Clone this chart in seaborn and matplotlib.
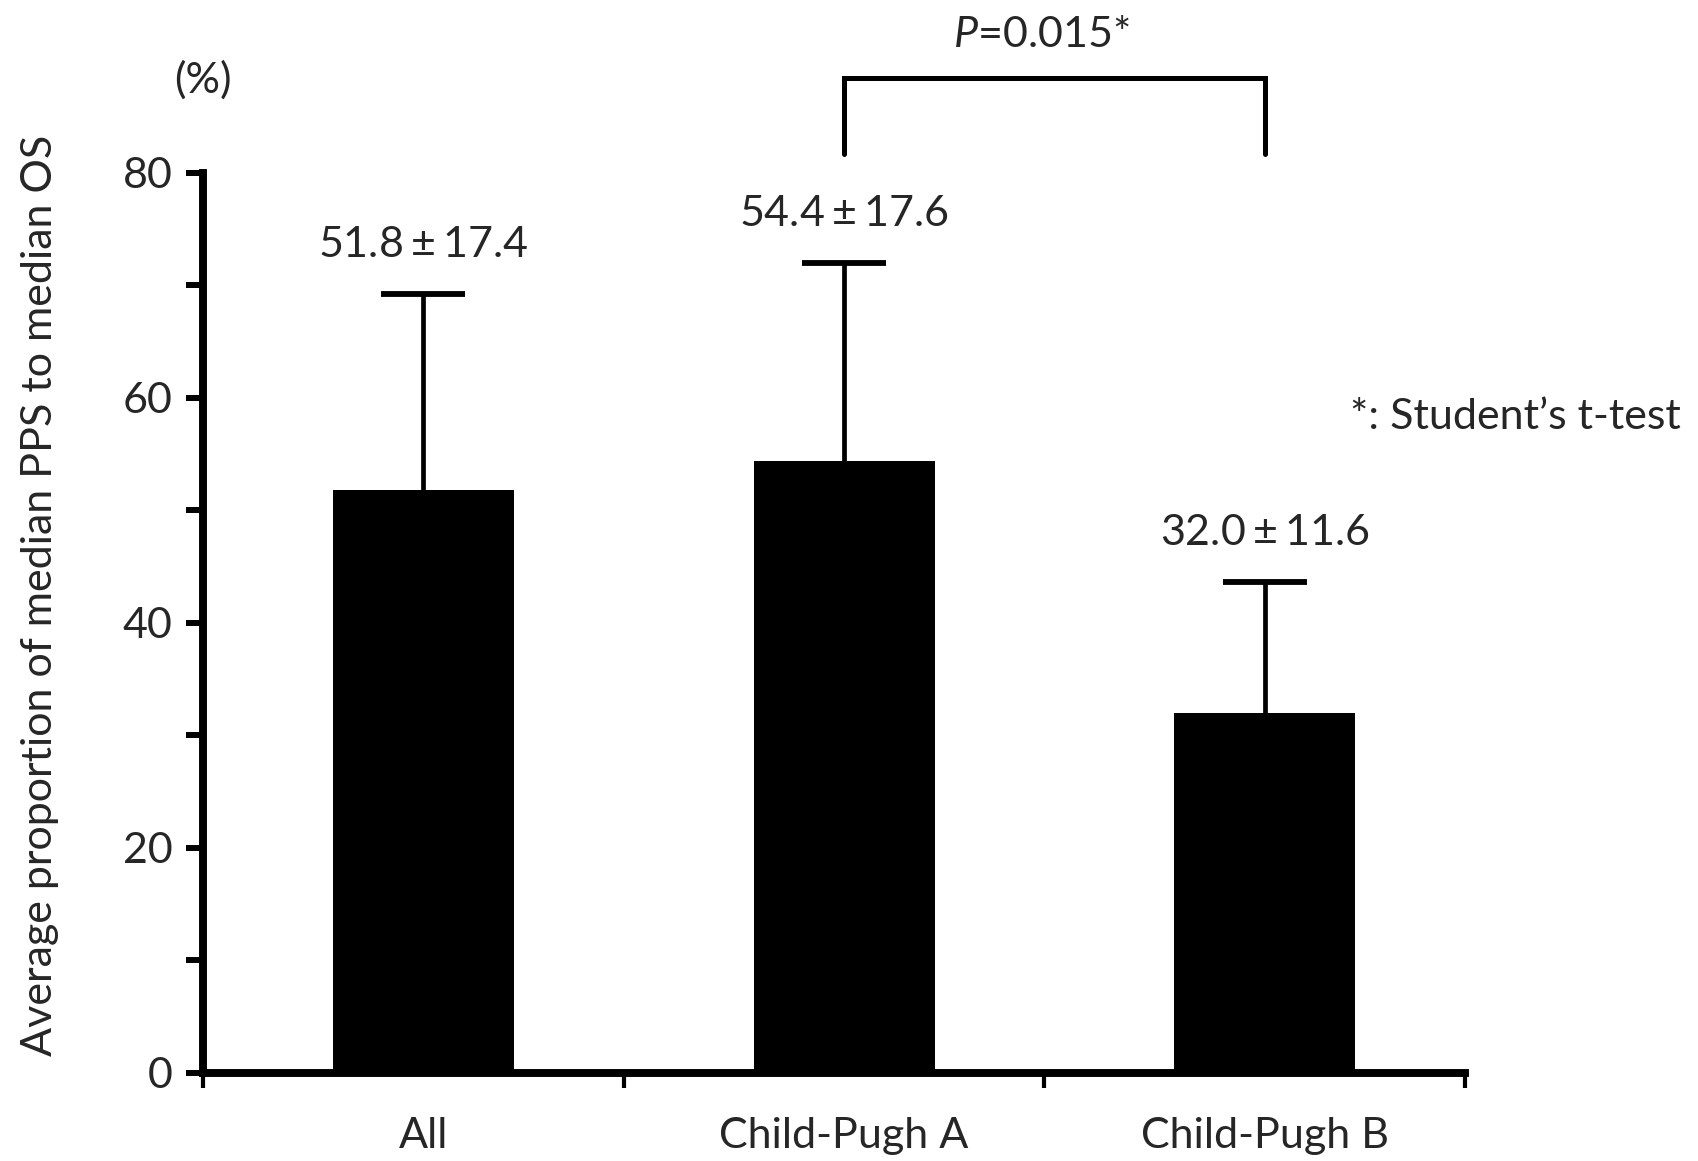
import numpy as np
import pandas as pd
import seaborn as sns
import matplotlib.pyplot as plt

# values as printed above the bars
groups = ['All', 'Child-Pugh A', 'Child-Pugh B']
means = [51.8, 54.4, 32.0]
sds = [17.4, 17.6, 11.6]
value_labels = [r'51.8$\:\pm\:$17.4', r'54.4$\:\pm\:$17.6', r'32.0$\:\pm\:$11.6']
y_ticks = [0, 20, 40, 60, 80]
y_minor = [10, 30, 50, 70]
p_text = r'$\mathit{P}$=0.015*'

sns.set_theme(style='ticks')
plt.rcParams['font.family'] = ['Lato', 'DejaVu Sans']
plt.rcParams['mathtext.fontset'] = 'custom'
plt.rcParams['mathtext.rm'] = 'Lato'
plt.rcParams['mathtext.it'] = 'Lato:italic'

fs = 31
fig = plt.figure(figsize=(16.99, 11.61), dpi=100)
ax = fig.add_axes([0.1195, 0.0758, 0.7428, 0.7754])

df = pd.DataFrame({'group': groups, 'mean': means})
sns.barplot(data=df, x='group', y='mean', color='black', saturation=1,
            width=0.43, linewidth=0, ax=ax)

# one-sided (upper) error bars
x = np.arange(len(groups))
_, caps, _ = ax.errorbar(x, means, yerr=[[0] * len(sds), sds], fmt='none',
                         ecolor='black', elinewidth=3.4, capsize=30,
                         capthick=4.2, zorder=3)
for cl in caps:
    if np.allclose(cl.get_ydata(), means):
        cl.remove()

# labels above error bars
for i, (m, s, lab) in enumerate(zip(means, sds, value_labels)):
    ax.text(i, m + s + 3.3, lab, ha='center', va='baseline', fontsize=fs)

# axes styling
ax.set_xlim(-0.524, 2.476)
ax.set_ylim(0, 80)
ax.set_yticks(y_ticks)
ax.set_yticks(y_minor, minor=True)
ax.set_xticks(x)
ax.set_xticklabels(groups)
ax.set_xticks(np.arange(-0.524, 2.5, 1.0), minor=True)
ax.tick_params(axis='y', which='both', length=12, width=4.3, direction='out',
               labelsize=fs, pad=10, color='black')
ax.tick_params(axis='x', which='major', length=0, labelsize=fs, pad=32)
ax.tick_params(axis='x', which='minor', length=11, width=3.0, direction='out',
               color='black')
sns.despine(ax=ax)
for side in ['left', 'bottom']:
    ax.spines[side].set_linewidth(5.7)
    ax.spines[side].set_color('black')

ax.set_xlabel('')
ax.set_ylabel('Average proportion of median PPS to median OS', fontsize=fs)
ax.yaxis.set_label_coords(-0.114, 0.53)

# extra annotations
ax.text(-0.524, 87.1, '(%)', ha='center', va='baseline', fontsize=fs,
        clip_on=False)
ax.plot([1, 1, 2, 2], [81.7, 88.4, 88.4, 81.7], color='black', lw=3.6,
        clip_on=False, solid_joinstyle='miter')
ax.text(1.468, 91.2, p_text, ha='center', va='baseline', fontsize=fs,
        clip_on=False)
ax.text(2.202, 57.2, '*: Student’s t-test', ha='left', va='baseline',
        fontsize=fs, clip_on=False)

fig.savefig('out.png', dpi=100)
